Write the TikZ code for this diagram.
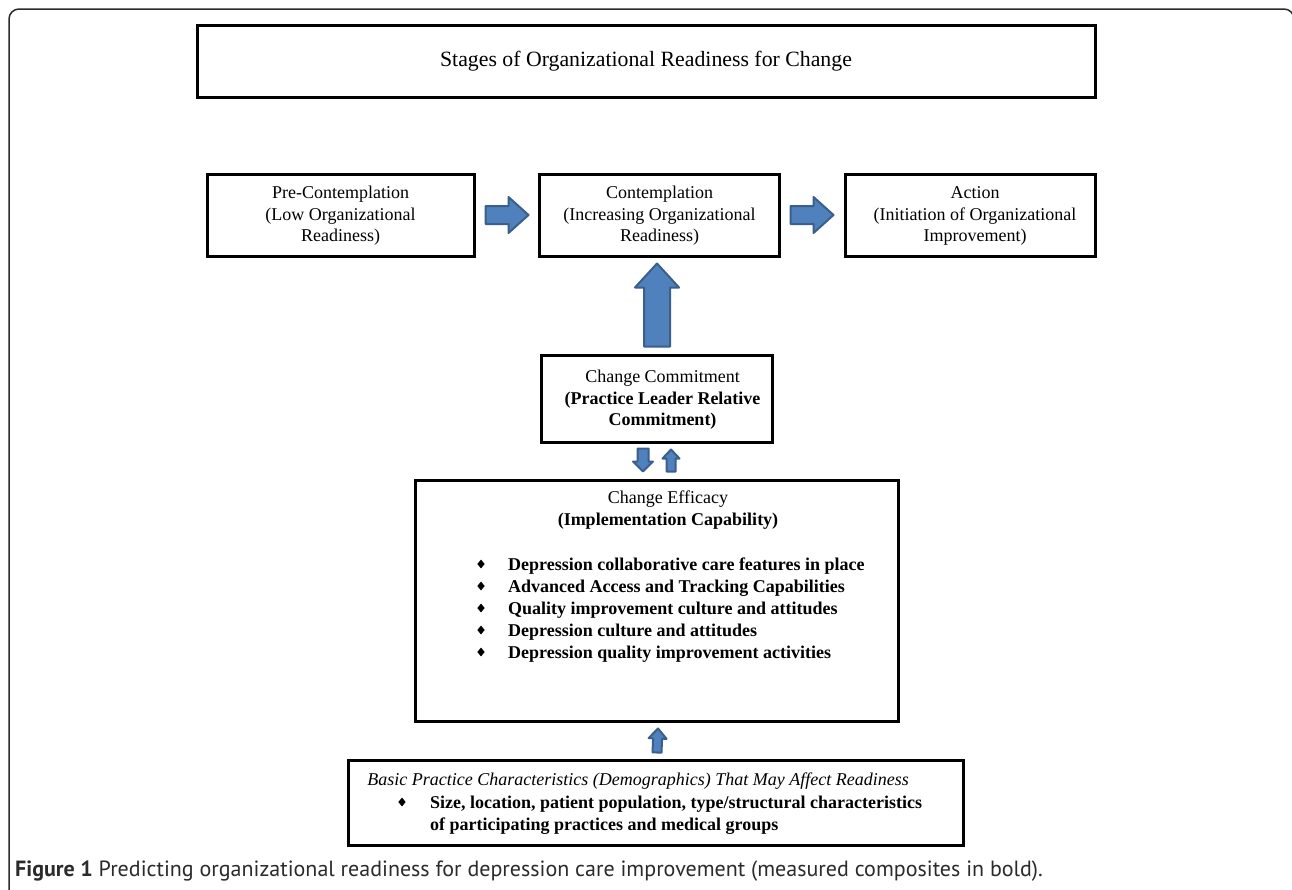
\documentclass[tikz,border=0pt]{standalone}
\usepackage{fontspec}
\setmainfont{Liberation Serif}
\newfontfamily\capfont{PT Sans}
\usetikzlibrary{calc,shapes.geometric}
\definecolor{arrowfill}{HTML}{4F81BD}
\definecolor{arrowedge}{HTML}{3A5F8C}
\definecolor{framegray}{HTML}{2B2B2B}
\definecolor{captiongray}{HTML}{2B2B2B}
% block arrow from coordinate #1 to coordinate #2; #3 shaft half width, #4 head half width, #5 head length
\newcommand\blkarrow[5]{%
  \coordinate (bkH) at ($(#2)!#5!(#1)$);
  \filldraw[blockarrow] ($(#1)!#3!90:(#2)$) -- ($(bkH)!#3!90:(#2)$) -- ($(bkH)!#4!90:(#2)$) -- (#2)
    -- ($(bkH)!#4!-90:(#2)$) -- ($(bkH)!#3!-90:(#2)$) -- ($(#1)!#3!-90:(#2)$) -- cycle;
}
\begin{document}
\begin{tikzpicture}[x=1pt,y=-1pt,
  box/.style={draw=black, line width=3pt, inner sep=0pt, align=center, fill=white},
  txt/.style={font=\fontsize{18}{21.5}\selectfont, align=center, inner sep=0pt},
  bul/.style={font=\fontsize{18}{21.5}\selectfont\bfseries, anchor=base west, inner sep=0pt},
  dia/.style={diamond, fill=black, draw=none, inner sep=0pt, minimum width=7.5pt, minimum height=9pt},
  blockarrow/.style={fill=arrowfill, draw=arrowedge, line width=2pt, line join=round}]
\clip (0,0) rectangle (1292,889);
\fill[white] (0,0) rectangle (1292,889);
% outer frame
\draw[framegray, line width=1.5pt, rounded corners=10pt] (9,900) -- (9,9) -- (1294,9) -- (1294,900);

% title
\node[box, minimum width=898pt, minimum height=72pt, font=\fontsize{21.8}{25}\selectfont] (title) at (646,61) {Stages of Organizational Readiness for Change};

% stages
\node[box, minimum width=267pt, minimum height=82pt] (pre) at (340.5,215) {};
\node[txt] (pret) at (340.5,216) {Pre-Contemplation\\(Low Organizational\\Readiness)};
\node[box, minimum width=240pt, minimum height=82pt] (cont) at (659,215) {};
\node[txt] (contt) at (659.5,216) {Contemplation\\(Increasing Organizational\\Readiness)};
\node[box, minimum width=250pt, minimum height=82pt] (act) at (970,215) {};
\node[txt] (actt) at (975,216) {Action\\(Initiation of Organizational\\Improvement)};

% commitment
\node[box, minimum width=231pt, minimum height=87pt] (com) at (656.5,398.5) {};
\node[txt] (comt) at (662.5,400) {Change Commitment\\\textbf{(Practice Leader Relative}\\\textbf{Commitment)}};

% efficacy
\node[box, minimum width=483pt, minimum height=241pt] (eff) at (656.5,600.5) {};
\node[txt] (efft) at (668,510) {Change Efficacy\\\textbf{(Implementation Capability)}};
\foreach \i/\yy/\t in {1/570/Depression collaborative care features in place,
                       2/592/Advanced Access and Tracking Capabilities,
                       3/614/Quality improvement culture and attitudes,
                       4/636/Depression culture and attitudes,
                       5/658/Depression quality improvement activities}{
  \node[dia] (ed\i) at (481,\yy-6) {};
  \node[bul] (eb\i) at (508,\yy) {\t};
}

% basic characteristics
\node[box, minimum width=615pt, minimum height=85pt] (bas) at (655.5,802.5) {};
\node[txt, anchor=base east, font=\fontsize{18}{21.5}\selectfont\itshape] (bast) at (909,785) {Basic Practice Characteristics (Demographics) That May Affect Readiness};
\node[dia] (bd1) at (402,802) {};
\node[bul] (bb1) at (430,808) {Size, location, patient population, type/structural characteristics};
\node[bul] (bb2) at (430,830) {of participating practices and medical groups};

% arrows
\coordinate (a1s) at ($(pre.east)+(10,0)$);
\coordinate (a1e) at ($(cont.west)+(-9,0)$);
\blkarrow{a1s}{a1e}{9pt}{18pt}{20pt}
\coordinate (a2s) at ($(cont.east)+(10,0)$);
\coordinate (a2e) at ($(act.west)+(-10,0)$);
\blkarrow{a2s}{a2e}{9pt}{18pt}{20pt}
\coordinate (a3s) at ($(com.north)+(0.5,-7)$);
\coordinate (a3e) at ($(cont.south)+(-2,6)$);
\blkarrow{a3s}{a3e}{13pt}{22pt}{24pt}
\coordinate (a4s) at ($(com.south)+(-13.5,5)$);
\coordinate (a4e) at ($(eff.north)+(-13.5,-7)$);
\blkarrow{a4s}{a4e}{5.5pt}{10pt}{10pt}
\coordinate (a5s) at ($(eff.north)+(14.5,-7)$);
\coordinate (a5e) at ($(com.south)+(14.5,6)$);
\blkarrow{a5s}{a5e}{4.5pt}{8.5pt}{9pt}
\coordinate (a6s) at ($(bas.north)+(1.5,-6)$);
\coordinate (a6e) at ($(eff.south)+(1.5,6)$);
\blkarrow{a6s}{a6e}{4.5pt}{9pt}{10pt}

% caption
\node[anchor=base west, inner sep=0pt, text=captiongray, font=\capfont\fontsize{22}{24}\selectfont] (cap) at (15,876) {\textbf{Figure 1} Predicting organizational readiness for depression care improvement (measured composites in bold).};
\end{tikzpicture}
\end{document}
